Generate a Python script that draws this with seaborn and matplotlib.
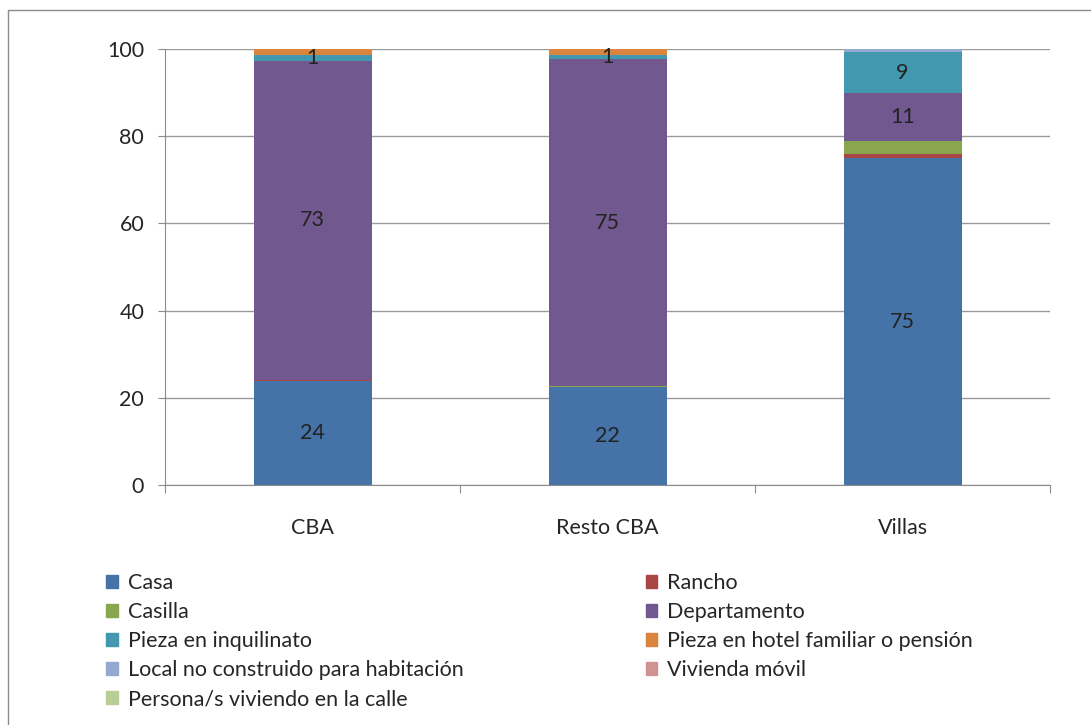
import seaborn as sns
import matplotlib.pyplot as plt
import numpy as np

# datos (porcentajes por tipo de vivienda)
grupos = ["CBA", "Resto CBA", "Villas"]
tipos = ["Casa", "Rancho", "Casilla", "Departamento", "Pieza en inquilinato",
         "Pieza en hotel familiar o pensión", "Local no construido para habitación",
         "Vivienda móvil", "Persona/s viviendo en la calle"]
casa = [23.8, 22.5, 75.0]
rancho = [0.2, 0.05, 0.9]
casilla = [0.05, 0.2, 2.9]
departamento = [73.3, 74.9, 11.2]
pieza_inq = [1.3, 1.05, 9.2]
pieza_hotel = [1.3, 1.3, 0.2]
local = [0.05, 0.0, 0.5]
movil = [0.0, 0.0, 0.1]
calle = [0.0, 0.0, 0.0]
series = [casa, rancho, casilla, departamento, pieza_inq, pieza_hotel, local, movil, calle]
colores = ["#4572A7", "#AA4643", "#89A54E", "#71588F", "#4198AF",
           "#DB843D", "#93A9CF", "#D19392", "#B9CD96"]
con_etiqueta = ["Casa", "Departamento", "Pieza en inquilinato"]

sns.set_style("white")
plt.rcParams['font.family'] = ['Lato', 'DejaVu Sans']

fig = plt.figure(figsize=(10.91, 7.25), dpi=100)
ax = fig.add_axes([165/1091, 1-485/725, 885/1091, 436/725])

base = np.zeros(len(grupos))
handles = []
for nombre, vals, col in zip(tipos, series, colores):
    vals = np.array(vals)
    sns.barplot(x=grupos, y=vals, color=col, width=0.4, bottom=base, ax=ax,
                linewidth=0, saturation=1)
    handles.append(plt.Rectangle((0, 0), 1, 1, color=col, label=nombre))
    if nombre in con_etiqueta:
        for i, v in enumerate(vals):
            ax.text(i, base[i] + v/2, f"{v:.0f}", ha="center", va="center",
                    fontsize=15.5, color="#222222")
    base = base + vals

ax.set_xlim(-0.5, 2.5)
ax.set_ylim(0, 100)
ax.set_yticks(range(0, 101, 20))
ax.yaxis.grid(True, color="#9a9a9a", linewidth=1)
ax.set_axisbelow(True)
for s in ["top", "right"]:
    ax.spines[s].set_visible(False)
ax.spines["left"].set_color("#8c8c8c")
ax.spines["bottom"].set_color("#8c8c8c")
ax.tick_params(axis="y", left=True, length=5, color="#8c8c8c", labelsize=15.5, pad=10)
ax.set_xticks([-0.5, 0.5, 1.5, 2.5], minor=False)
ax.set_xticklabels([])
ax.set_xticks([0, 1, 2], minor=True)
ax.set_xticklabels(grupos, minor=True)
ax.tick_params(axis="x", which="major", bottom=True, length=6, color="#8c8c8c")
ax.tick_params(axis="x", which="minor", bottom=False, labelsize=15.5, pad=22)
ax.set_xlabel("")
ax.set_ylabel("")

orden = handles[0::2] + handles[1::2]
fig.legend(handles=orden, loc="upper left", bbox_to_anchor=(87/1091, 1-554/725),
           ncol=2, frameon=False, fontsize=15.5, handlelength=0.55, handleheight=0.55,
           handletextpad=0.45, labelspacing=0.42, columnspacing=8.45)

fig.add_artist(plt.Line2D([8/1091, 8/1091], [0, 1-10/725], color="#8c8c8c",
                          linewidth=1, transform=fig.transFigure))
fig.add_artist(plt.Line2D([8/1091, 1], [1-10/725, 1-10/725], color="#8c8c8c",
                          linewidth=1, transform=fig.transFigure))

fig.savefig("out.png", dpi=100)
